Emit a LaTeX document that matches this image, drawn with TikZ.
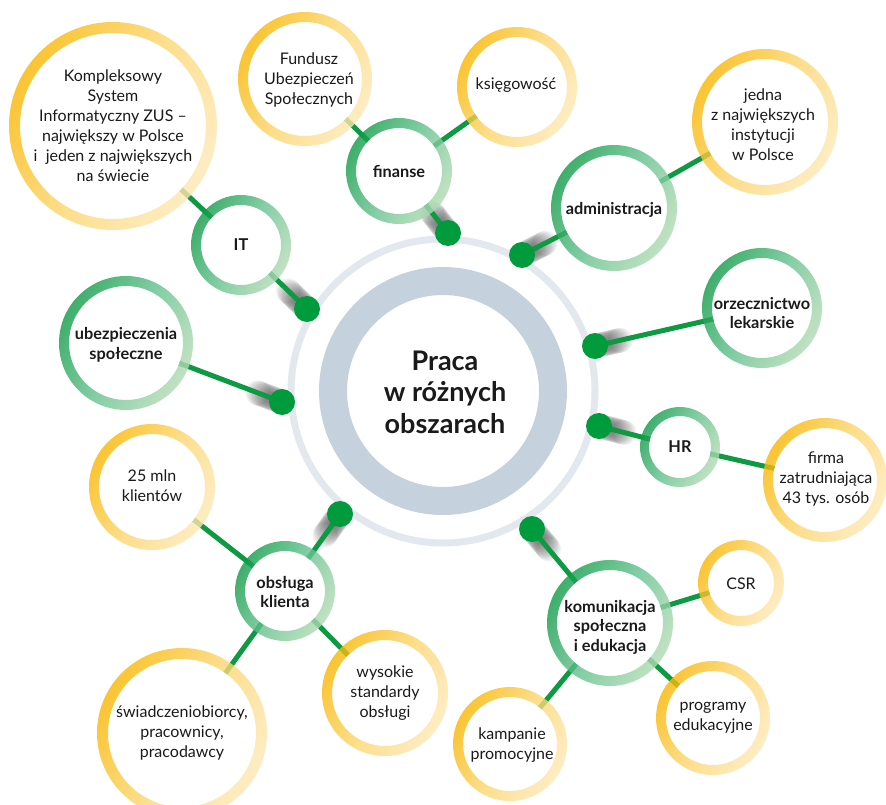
\documentclass[tikz,border=0pt]{standalone}
\usepackage{fontspec}
\setmainfont{Lato}
\usetikzlibrary{calc}
\definecolor{gA}{HTML}{0F9B47}
\definecolor{gB}{HTML}{66C28F}
\definecolor{gC}{HTML}{B2DBB4}
\definecolor{yA}{HTML}{F9B600}
\definecolor{yB}{HTML}{FDD66F}
\definecolor{yC}{HTML}{FEE8B4}
\definecolor{lineg}{HTML}{0D9A42}
\definecolor{dotg}{HTML}{009B3C}
\definecolor{bigring}{HTML}{C5D1DC}
\definecolor{thinring}{HTML}{E3E8EE}
\definecolor{txt}{HTML}{1A1A1A}
\newcommand{\gring}[3]{%
  \fill[white] (#1) circle[radius={(#2-#3)*1pt}];
  \shade[top color=gA, bottom color=gC, middle color=gB, shading angle=60, even odd rule, fill opacity=0.8]
    (#1) circle[radius={#2*1pt}] (#1) circle[radius={(#2-#3)*1pt}];}
\newcommand{\yring}[3]{%
  \fill[white] (#1) circle[radius={(#2-#3)*1pt}];
  \shade[top color=yA, bottom color=yC, middle color=yB, shading angle=60, even odd rule, fill opacity=0.8]
    (#1) circle[radius={#2*1pt}] (#1) circle[radius={(#2-#3)*1pt}];}
\newcommand{\dotshadow}[2]{%
  \foreach \t in {2,4,...,26} {\fill[black, opacity=0.05] ($(#1)!\t pt!(#2)$) circle[radius=12.5pt];}}
\begin{document}
\begin{tikzpicture}[x=1pt,y=-1pt,
  conn/.style={draw=lineg, line width=5pt},
  ytext/.style={align=center, text=txt, font=\fontsize{16}{20}\selectfont, inner sep=0pt},
  gtext/.style={align=center, text=txt, font=\bfseries\fontsize{16.3}{19.5}\selectfont, inner sep=0pt},
  ctext/.style={align=center, text=txt, font=\bfseries\fontsize{27}{31.5}\selectfont, inner sep=0pt}]
\useasboundingbox (0,0) rectangle (886,805);
\fill[white] (0,0) rectangle (886,805);
% centres
\coordinate (C) at (443,391);
\coordinate (K) at (113,126);
\coordinate (IT) at (241,245);
\coordinate (FUS) at (305,79);
\coordinate (KS) at (517,87);
\coordinate (FIN) at (399,171);
\coordinate (JED) at (765,122);
\coordinate (ADM) at (614,208);
\coordinate (ORZ) at (762,308);
\coordinate (UB) at (126,343);
\coordinate (HR) at (680,447);
\coordinate (FIR) at (825,480);
\coordinate (MLN) at (152,487);
\coordinate (OBS) at (285,591);
\coordinate (SW) at (182,733);
\coordinate (WYS) at (385,693);
\coordinate (KOM) at (610,623);
\coordinate (CSR) at (741,583);
\coordinate (PRG) at (713,718);
\coordinate (KMP) at (510,744);
% dots
\coordinate (dIT) at (307,309);
\coordinate (dFIN) at (448,233);
\coordinate (dADM) at (522,255);
\coordinate (dORZ) at (595,346);
\coordinate (dUB) at (282,402);
\coordinate (dHR) at (599,426);
\coordinate (dOBS) at (340,514);
\coordinate (dKOM) at (532,529);
% central rings
\draw[thinring, line width=7pt] (C) circle[radius=152pt];
\draw[bigring, line width=28pt] (C) circle[radius=110pt];
\node[ctext] (center) at (445,392) {Praca\\w różnych\\obszarach};
% shadows
\dotshadow{dIT}{IT}
\dotshadow{dFIN}{FIN}
\dotshadow{dADM}{ADM}
\dotshadow{dORZ}{ORZ}
\dotshadow{dUB}{UB}
\dotshadow{dHR}{HR}
\dotshadow{dOBS}{OBS}
\dotshadow{dKOM}{KOM}
% connectors
\draw[conn] (dIT) -- (IT) -- (K);
\draw[conn] (FUS) -- (FIN) -- (KS);
\draw[conn] (dFIN) -- (FIN);
\draw[conn] (dADM) -- (ADM) -- (JED);
\draw[conn] (dORZ) -- (ORZ);
\draw[conn] (dUB) -- (UB);
\draw[conn] (dHR) -- (HR) -- (FIR);
\draw[conn] (dOBS) -- (OBS);
\draw[conn] (MLN) -- (OBS) -- (WYS);
\draw[conn] (OBS) -- (SW);
\draw[conn] (dKOM) -- (KOM);
\draw[conn] (CSR) -- (KOM) -- (PRG);
\draw[conn] (KOM) -- (KMP);
% dots
\foreach \d in {dIT,dFIN,dADM,dORZ,dUB,dHR,dOBS,dKOM} {\fill[dotg] (\d) circle[radius=13pt];}
% rings
\yring{K}{104}{11}
\gring{IT}{50}{10}
\yring{FUS}{67}{10}
\yring{KS}{60}{10}
\gring{FIN}{53}{10}
\yring{JED}{73}{10}
\gring{ADM}{63}{10}
\gring{ORZ}{60}{10}
\gring{UB}{67}{10}
\gring{HR}{40}{9}
\yring{FIR}{62}{10}
\yring{MLN}{63}{10}
\gring{OBS}{50}{10}
\yring{SW}{85}{11}
\yring{WYS}{63}{10}
\gring{KOM}{63}{10}
\yring{CSR}{43}{10}
\yring{PRG}{57}{10}
\yring{KMP}{57}{10}
% texts
\node[ytext] (tK) at (113,126) {Kompleksowy\\System\\Informatyczny ZUS –\\największy w Polsce\\i\ \ jeden z największych\\na świecie};
\node[ytext] (tFUS) at (309,80) {Fundusz\\Ubezpieczeń\\Społecznych};
\node[ytext] (tKS) at (516,85) {księgowość};
\node[ytext] (tJED) at (763,125) {jedna\\z największych\\instytucji\\w Polsce};
\node[ytext] (tFIR) at (826,479) {firma\\zatrudniająca\\43 tys. osób};
\node[ytext] (tMLN) at (152,486) {25 mln\\klientów};
\node[ytext] (tSW) at (182,733) {świadczeniobiorcy,\\pracownicy,\\pracodawcy};
\node[ytext] (tWYS) at (385,693) {wysokie\\standardy\\obsługi};
\node[ytext] (tCSR) at (741,584) {CSR};
\node[ytext] (tPRG) at (713,718) {programy\\edukacyjne};
\node[ytext] (tKMP) at (512,745) {kampanie\\promocyjne};
\node[gtext] (tIT) at (241,245) {IT};
\node[gtext] (tFIN) at (399,171) {finanse};
\node[gtext] (tADM) at (614,210) {administracja};
\node[gtext] (tORZ) at (762,313) {orzecznictwo\\lekarskie};
\node[gtext] (tUB) at (126,345) {ubezpieczenia\\społeczne};
\node[gtext] (tHR) at (680,447) {HR};
\node[gtext] (tOBS) at (285,592) {obsługa\\klienta};
\node[gtext] (tKOM) at (610,627) {komunikacja\\społeczna\\i edukacja};
\end{tikzpicture}
\end{document}
